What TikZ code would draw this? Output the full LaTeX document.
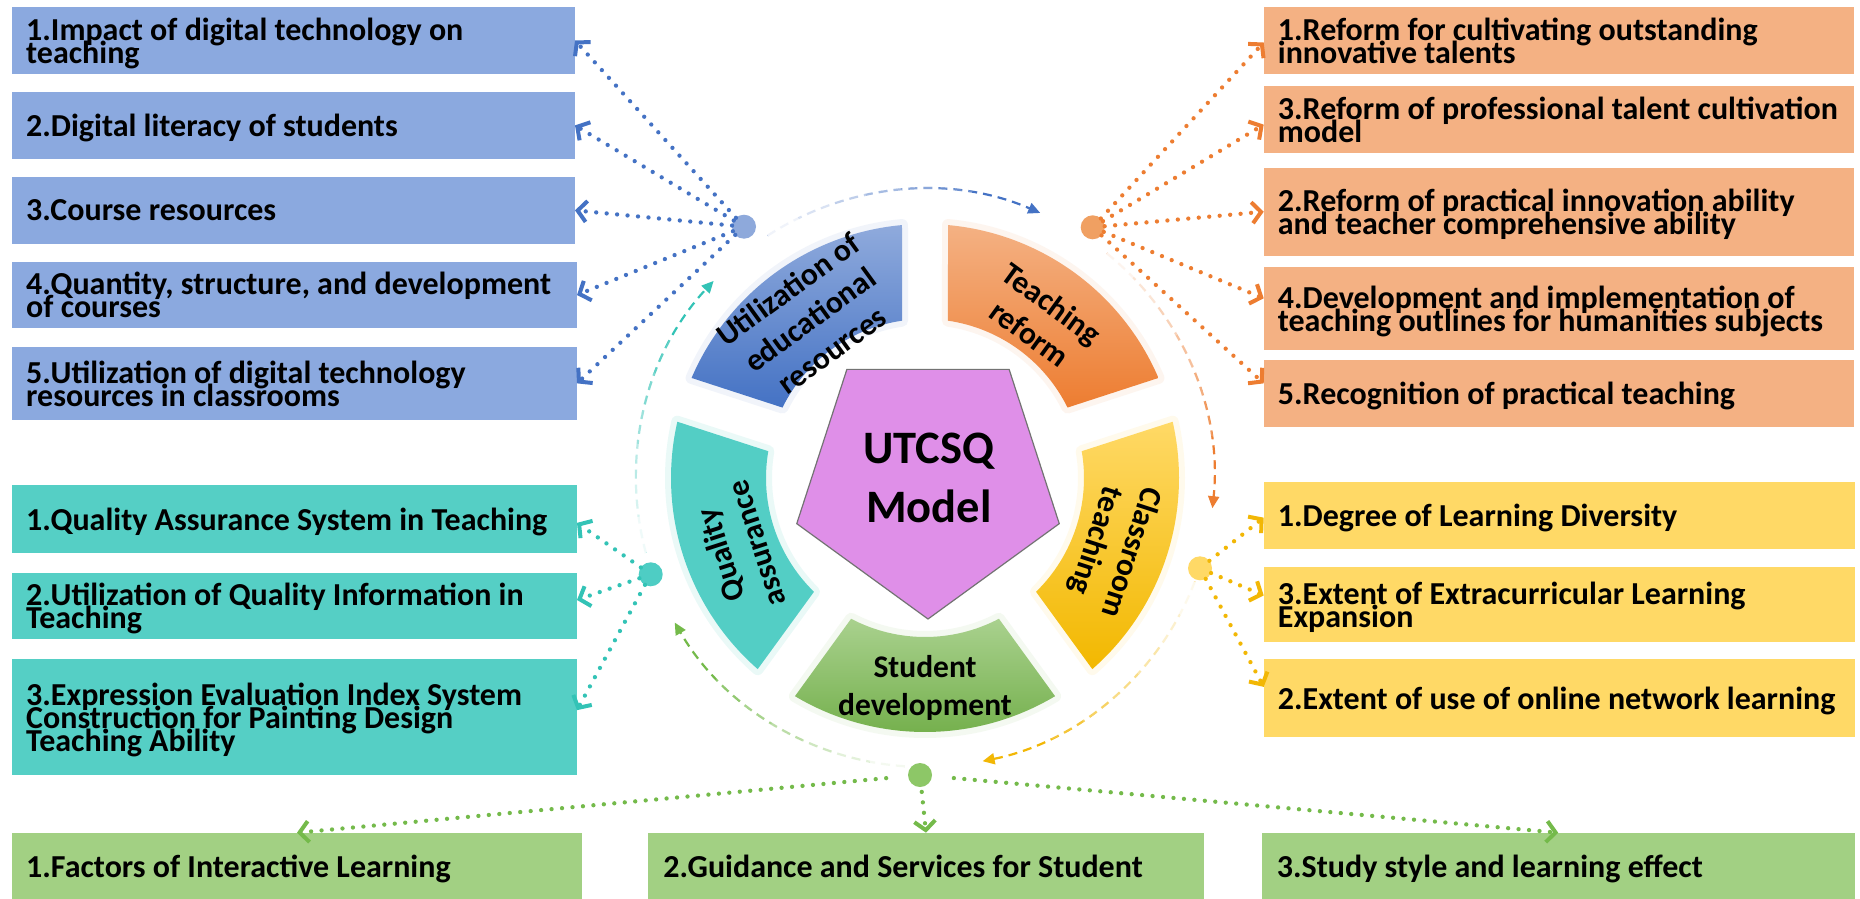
\documentclass[tikz,border=0pt]{standalone}
\usepackage{fontspec}
\setmainfont{Carlito}
\usetikzlibrary{arrows.meta,calc}

% box fills
\definecolor{blueBox}{HTML}{8BA9DF}
\definecolor{orangeBox}{HTML}{F4B183}
\definecolor{tealBox}{HTML}{55CFC5}
\definecolor{yellowBox}{HTML}{FFD966}
\definecolor{greenBox}{HTML}{A2D083}
% connector colours
\definecolor{blueLine}{HTML}{4472C4}
\definecolor{orangeLine}{HTML}{ED7D31}
\definecolor{tealLine}{HTML}{33C3B6}
\definecolor{yellowLine}{HTML}{F2B705}
\definecolor{greenLine}{HTML}{74BA4A}
% hub dots
\definecolor{blueDot}{HTML}{8EA9DB}
\definecolor{orangeDot}{HTML}{F0A062}
\definecolor{tealDot}{HTML}{4ECDC4}
\definecolor{yellowDot}{HTML}{FFD966}
\definecolor{greenDot}{HTML}{8DC767}
% ring and centre
\definecolor{blueTop}{HTML}{8FAADC}
\definecolor{blueBot}{HTML}{4472C4}
\definecolor{orangeTop}{HTML}{F4B183}
\definecolor{orangeBot}{HTML}{ED7D31}
\definecolor{yellowTop}{HTML}{FFD966}
\definecolor{yellowBot}{HTML}{F2B800}
\definecolor{greenTop}{HTML}{A9D18E}
\definecolor{greenBot}{HTML}{70AD47}
\definecolor{tealSeg}{HTML}{53CEC5}
\definecolor{penta}{HTML}{DF8FE8}

\newcommand\itemfont{\bfseries\fontsize{32}{23}\selectfont\lineskiplimit=-100pt\lineskip=0pt}
\newcommand\segfont{\bfseries\fontsize{31.5}{37.5}\selectfont\lineskiplimit=-100pt\lineskip=0pt}

% annular sector of the ring, centred on angle #1
\newcommand\segpath[1]{($(C)+({#1-30.8}:254)$) arc[start angle={#1-30.8}, end angle={#1+30.8}, radius=254]
  -- ($(C)+({#1+27.7}:159)$) arc[start angle={#1+27.7}, end angle={#1-27.7}, radius=159] -- cycle}

% dashed ring arrow that fades in from its start
\newcommand\dasharc[3]{%
  \draw[ringarc, draw=#1, -{Triangle[length=12pt,width=11pt]}]
    ($(C)+({#2}:289)$) arc[start angle={#2}, end angle={#3}, radius=289];
  \foreach \k/\w in {0/0.92,1/0.8,2/0.66,3/0.52,4/0.38,5/0.22}{
    \draw[white, opacity=\w, line width=4pt]
      ($(C)+({#2+(#3-#2)*\k/8}:289)$) arc[start angle={#2+(#3-#2)*\k/8}, end angle={#2+(#3-#2)*(\k+1)/8}, radius=289];
  }%
}

\tikzset{
  itembox/.style={inner sep=0pt, outer sep=0pt, anchor=north west},
  itemtext/.style={anchor=west, inner sep=0pt, align=left, font=\itemfont, text depth=0pt, text=black},
  seglabel/.style={inner sep=0pt, align=center, font=\segfont, text=black},
  hub/.style={circle, inner sep=0pt, outer sep=0pt, minimum size=24pt},
  feed/.style={line width=4.3pt, line cap=round, dash pattern=on 0pt off 10.5pt,
    -{Straight Barb[length=9pt,width=21pt,line width=4pt]}},
  ringarc/.style={line width=2.2pt, dash pattern=on 9pt off 6pt},
  glow/.style={draw=#1, line width=12pt, opacity=0.12, line join=round},
}

\begin{document}
\begin{tikzpicture}[x=1pt, y=1pt]
\useasboundingbox (0,0) rectangle (1860,-899);
\fill[white] (0,0) rectangle (1860,-899);

% ---------- left column: educational resources ----------
\node[itembox, fill=blueBox, minimum width=563pt, minimum height=67.6pt] (B1) at (12,-6.7) {};
\node[itembox, fill=blueBox, minimum width=563pt, minimum height=67.3pt] (B2) at (12,-91.7) {};
\node[itembox, fill=blueBox, minimum width=563pt, minimum height=67.3pt] (B3) at (12,-176.7) {};
\node[itembox, fill=blueBox, minimum width=565pt, minimum height=66.6pt] (B4) at (12,-261.7) {};
\node[itembox, fill=blueBox, minimum width=565pt, minimum height=73.3pt] (B5) at (12,-346.7) {};
\node[itemtext] (B1t) at ([xshift=14pt]B1.west) {1.Impact of digital technology on\\teaching};
\node[itemtext] (B2t) at ([xshift=14pt]B2.west) {2.Digital literacy of students};
\node[itemtext] (B3t) at ([xshift=14pt]B3.west) {3.Course resources};
\node[itemtext] (B4t) at ([xshift=14pt]B4.west) {4.Quantity, structure, and development\\of courses};
\node[itemtext] (B5t) at ([xshift=14pt]B5.west) {5.Utilization of digital technology\\resources in classrooms};

% ---------- right column: teaching reform ----------
\node[itembox, fill=orangeBox, minimum width=590pt, minimum height=67.6pt] (O1) at (1263.7,-6.7) {};
\node[itembox, fill=orangeBox, minimum width=590pt, minimum height=67.3pt] (O2) at (1263.7,-86) {};
\node[itembox, fill=orangeBox, minimum width=590pt, minimum height=88pt] (O3) at (1263.7,-167.7) {};
\node[itembox, fill=orangeBox, minimum width=590pt, minimum height=83.3pt] (O4) at (1263.7,-266.7) {};
\node[itembox, fill=orangeBox, minimum width=590pt, minimum height=66.7pt] (O5) at (1263.7,-360) {};
\node[itemtext] (O1t) at ([xshift=14pt]O1.west) {1.Reform for cultivating outstanding\\innovative talents};
\node[itemtext] (O2t) at ([xshift=14pt]O2.west) {3.Reform of professional talent cultivation\\model};
\node[itemtext] (O3t) at ([xshift=14pt]O3.west) {2.Reform of practical innovation ability\\and teacher comprehensive ability};
\node[itemtext] (O4t) at ([xshift=14pt]O4.west) {4.Development and implementation of\\teaching outlines for humanities subjects};
\node[itemtext] (O5t) at ([xshift=14pt]O5.west) {5.Recognition of practical teaching};

% ---------- left column: quality assurance ----------
\node[itembox, fill=tealBox, minimum width=565pt, minimum height=67.7pt] (T1) at (12,-485) {};
\node[itembox, fill=tealBox, minimum width=565pt, minimum height=66.6pt] (T2) at (12,-572.7) {};
\node[itembox, fill=tealBox, minimum width=565pt, minimum height=115.7pt] (T3) at (12,-659.3) {};
\node[itemtext] (T1t) at ([xshift=14pt]T1.west) {1.Quality Assurance System in Teaching};
\node[itemtext] (T2t) at ([xshift=14pt]T2.west) {2.Utilization of Quality Information in\\Teaching};
\node[itemtext] (T3t) at ([xshift=14pt]T3.west) {3.Expression Evaluation Index System\\Construction for Painting Design\\Teaching Ability};

% ---------- right column: classroom teaching ----------
\node[itembox, fill=yellowBox, minimum width=591pt, minimum height=67.3pt] (Y1) at (1263.7,-482) {};
\node[itembox, fill=yellowBox, minimum width=591pt, minimum height=74.4pt] (Y2) at (1263.7,-567.3) {};
\node[itembox, fill=yellowBox, minimum width=591pt, minimum height=77.7pt] (Y3) at (1263.7,-659) {};
\node[itemtext] (Y1t) at ([xshift=14pt]Y1.west) {1.Degree of Learning Diversity};
\node[itemtext] (Y2t) at ([xshift=14pt]Y2.west) {3.Extent of Extracurricular Learning\\Expansion};
\node[itemtext] (Y3t) at ([xshift=14pt]Y3.west) {2.Extent of use of online network learning};

% ---------- bottom row: student development ----------
\node[itembox, fill=greenBox, minimum width=570pt, minimum height=66.3pt] (G1) at (12,-832.7) {};
\node[itembox, fill=greenBox, minimum width=555.6pt, minimum height=66.3pt] (G2) at (648.2,-832.7) {};
\node[itembox, fill=greenBox, minimum width=593pt, minimum height=66.3pt] (G3) at (1261.7,-832.7) {};
\node[itemtext] (G1t) at ([xshift=14pt]G1.west) {1.Factors of Interactive Learning};
\node[itemtext] (G2t) at ([xshift=15pt]G2.west) {2.Guidance and Services for Student};
\node[itemtext] (G3t) at ([xshift=15pt]G3.west) {3.Study style and learning effect};

% ---------- ring centre ----------
\coordinate (C) at (925,-478);
\coordinate (P) at (928,-481);

% dashed cycle arrows between the hubs
\dasharc{blueLine}{123}{66.5}
\dasharc{orangeLine}{51}{-6}
\dasharc{yellowLine}{-21}{-78.5}
\dasharc{greenLine}{-94}{-150}
\dasharc{tealLine}{195}{137}

% ring segments
\path[glow=blueTop] \segpath{126};
\path[glow=orangeTop] \segpath{54};
\path[glow=yellowTop] \segpath{-18};
\path[glow=greenTop] \segpath{-90};
\path[glow=tealSeg] \segpath{198};
\shade[top color=blueTop, bottom color=blueBot] \segpath{126};
\shade[top color=orangeTop, bottom color=orangeBot] \segpath{54};
\shade[top color=yellowTop, bottom color=yellowBot] \segpath{-18};
\shade[top color=greenTop, bottom color=greenBot] \segpath{-90};
\fill[tealSeg] \segpath{198};

\node[seglabel, rotate=36] (Lb) at ($(C)+(126:196)$) {Utilization of\\educational\\resources};
\node[seglabel, rotate=-36] (Lo) at ($(C)+(54:197)$) {Teaching\\reform};
\node[seglabel, rotate=-108] (Ly) at ($(C)+(-20:200)$) {Classroom\\teaching};
\node[seglabel, rotate=108] (Lt) at ($(C)+(201:200)$) {Quality\\assurance};
\node[seglabel] (Lg) at (925,-688) {Student\\development};

% centre pentagon
\filldraw[fill=penta, draw=black!55, line width=1.2pt, line join=miter]
  ($(P)+(-90:138)$) -- ($(P)+(-18:138)$) -- ($(P)+(54:138)$) -- ($(P)+(126:138)$) -- ($(P)+(198:138)$) -- cycle;
\node[inner sep=0pt, align=center, font=\bfseries\fontsize{46.5}{58.5}\selectfont, text=black] (M) at (929,-478) {UTCSQ\\Model};

% ---------- hubs ----------
\node[hub, fill=blueDot] (hB) at (744,-226.7) {};
\node[hub, fill=orangeDot] (hO) at (1092.7,-227.3) {};
\node[hub, fill=yellowDot] (hY) at (1200,-568.3) {};
\node[hub, fill=tealDot] (hT) at (650.7,-574.3) {};
\node[hub, fill=greenDot] (hG) at (920,-775) {};

% ---------- dotted feeds from hubs to items ----------
\foreach \b in {B1,B2,B3,B4,B5}{\draw[feed, blueLine] (hB) -- (\b.east);}
\draw[feed, orangeLine] (hO) -- ([yshift=-2pt]O1.west);
\draw[feed, orangeLine] (hO) -- ([yshift=-5pt]O2.west);
\draw[feed, orangeLine] (hO) -- (O3.west);
\draw[feed, orangeLine] (hO) -- ([yshift=10pt]O4.west);
\draw[feed, orangeLine] (hO) -- ([yshift=10pt]O5.west);
\draw[feed, yellowLine] (hY) -- ([yshift=-2pt]Y1.west);
\draw[feed, yellowLine] (hY) -- ([yshift=9pt]Y2.west);
\draw[feed, yellowLine] (hY) -- ([yshift=11pt]Y3.west);
\draw[feed, tealLine] (hT) -- ([yshift=-4pt]T1.east);
\draw[feed, tealLine] (hT) -- ([yshift=6pt]T2.east);
\draw[feed, tealLine] (hT) -- ([yshift=7pt]T3.east);
\draw[feed, greenLine, shorten <=22pt] (hG) -- (G1.north);
\draw[feed, greenLine, shorten <=5pt] (hG) -- (G2.north);
\draw[feed, greenLine, shorten <=22pt] (hG) -- (G3.north);
\end{tikzpicture}
\end{document}
